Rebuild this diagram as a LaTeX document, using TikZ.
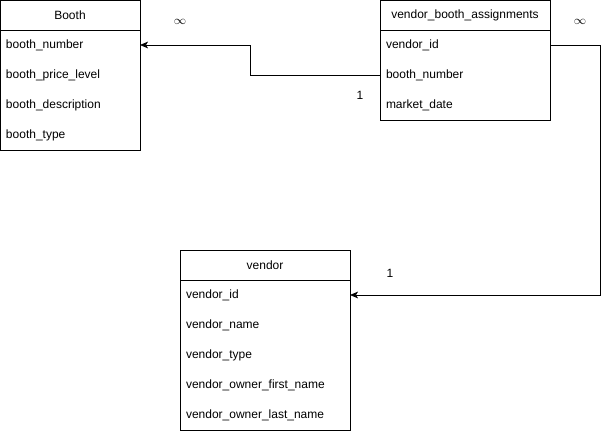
\documentclass[tikz,border=0pt]{standalone}
\usepackage{fontspec}
\setmainfont{Liberation Sans}
\usetikzlibrary{arrows.meta, positioning, fit}
\tikzset{
    hdr/.style={draw, minimum width=#1, minimum height=22.5pt, inner sep=0pt, outer sep=0pt,
                font=\fontsize{9}{11}\selectfont},
    fld/.style={minimum width=#1, minimum height=22.5pt, inner ysep=0pt, inner xsep=4.5pt, outer sep=0pt,
                text width=#1-9pt, align=left, font=\fontsize{9}{11}\selectfont},
    frame/.style={draw, inner sep=0pt, outer sep=0pt},
    rel/.style={-{Stealth[length=6pt, width=5pt, inset=1.5pt]}, line width=0.6pt},
    card/.style={font=\fontsize{9}{11}\selectfont, inner sep=0pt}
}
\begin{document}
\begin{tikzpicture}[x=0.75pt, y=-0.75pt, line width=0.6pt]
    \useasboundingbox (0,0) rectangle (611,431);
    % Booth
    \node[hdr=105pt] (booth) at (70,15) {Booth};
    \node[fld=105pt, below=0pt of booth] (booth-num) {booth\_number};
    \node[fld=105pt, below=0pt of booth-num] (booth-price) {booth\_price\_level};
    \node[fld=105pt, below=0pt of booth-price] (booth-desc) {booth\_description};
    \node[fld=105pt, below=0pt of booth-desc] (booth-type) {booth\_type};
    \node[frame, fit=(booth)(booth-type)] {};
    % vendor_booth_assignments
    \node[hdr=127.5pt] (vba) at (465,15) {vendor\_booth\_assignments};
    \node[fld=127.5pt, below=0pt of vba] (vba-vid) {vendor\_id};
    \node[fld=127.5pt, below=0pt of vba-vid] (vba-num) {booth\_number};
    \node[fld=127.5pt, below=0pt of vba-num] (vba-date) {market\_date};
    \node[frame, fit=(vba)(vba-date)] {};
    % vendor
    \node[hdr=127.5pt] (vendor) at (265,265) {vendor};
    \node[fld=127.5pt, below=0pt of vendor] (vendor-id) {vendor\_id};
    \node[fld=127.5pt, below=0pt of vendor-id] (vendor-name) {vendor\_name};
    \node[fld=127.5pt, below=0pt of vendor-name] (vendor-type) {vendor\_type};
    \node[fld=127.5pt, below=0pt of vendor-type] (vendor-first) {vendor\_owner\_first\_name};
    \node[fld=127.5pt, below=0pt of vendor-first] (vendor-last) {vendor\_owner\_last\_name};
    \node[frame, fit=(vendor)(vendor-last)] {};
    % relations
    \coordinate (bend1) at (250,75);
    \coordinate (bend2) at (600,45);
    \draw[rel] (vba-num.west) -- (bend1) |- (booth-num.east);
    \draw[rel] (vba-vid.east) -- (bend2) |- (vendor-id.east);
    \node[card] (m1) at (180,22) {$\infty$};
    \node[card] (o1) at (360,95) {1};
    \node[card] (m2) at (580,22) {$\infty$};
    \node[card] (o2) at (390,273) {1};
\end{tikzpicture}
\end{document}
